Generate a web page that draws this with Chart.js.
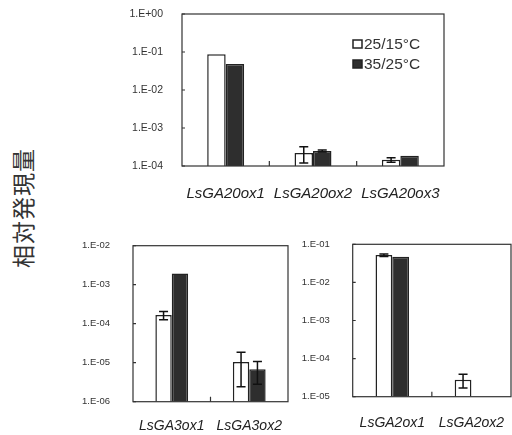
<!DOCTYPE html>
<html>
<head>
<meta charset="utf-8">
<script src="https://cdn.jsdelivr.net/npm/chart.js@4/dist/chart.umd.min.js"></script>
<style>
  html, body { margin: 0; padding: 0; background: #fff; width: 512px; height: 435px; overflow: hidden; }
  .panel { position: absolute; }
  #ylab {
    position: absolute; left: 22px; top: 208px;
    transform: translate(-50%, -50%) rotate(-90deg);
    font: 23px "Noto Sans CJK JP"; color: #333; white-space: nowrap; letter-spacing: 1px;
  }
</style>
</head>
<body>
<div id="ylab">相対発現量</div>
<canvas id="c1" class="panel" width="360" height="210" style="left:100px;top:0"></canvas>
<canvas id="c2" class="panel" width="240" height="205" style="left:60px;top:230px"></canvas>
<canvas id="c3" class="panel" width="222" height="205" style="left:290px;top:230px"></canvas>
<script>
// Growing-condition series (day/night temperature)
const seriesLabels = ['25/15°C', '35/25°C'];

// GA 20-oxidase genes
const ga20Genes = ['LsGA20ox1', 'LsGA20ox2', 'LsGA20ox3'];
const ga20Cool = [0.087, 2.2e-4, 1.45e-4];
const ga20CoolErr = [0, 1.0e-4, 0.2e-4];
const ga20Warm = [0.048, 2.5e-4, 1.87e-4];
const ga20WarmErr = [0, 0.15e-4, 0];
const ga20TickValues = [1e-4, 1e-3, 1e-2, 1e-1, 1];
const ga20TickLabels = ['1.E-04', '1.E-03', '1.E-02', '1.E-01', '1.E+00'];

// GA 3-oxidase genes
const ga3Genes = ['LsGA3ox1', 'LsGA3ox2'];
const ga3Cool = [1.66e-4, 1.04e-5];
const ga3CoolErr = [0.4e-4, 0.8e-5];
const ga3Warm = [1.95e-3, 6.8e-6];
const ga3WarmErr = [0, 4e-6];
const ga3TickValues = [1e-6, 1e-5, 1e-4, 1e-3, 1e-2];
const ga3TickLabels = ['1.E-06', '1.E-05', '1.E-04', '1.E-03', '1.E-02'];

// GA 2-oxidase genes
const ga2Genes = ['LsGA2ox1', 'LsGA2ox2'];
const ga2Cool = [0.052, 2.8e-5];
const ga2CoolErr = [0.004, 1.1e-5];
const ga2Warm = [0.047, null];
const ga2WarmErr = [0, 0];
const ga2TickValues = [1e-5, 1e-4, 1e-3, 1e-2, 1e-1];
const ga2TickLabels = ['1.E-05', '1.E-04', '1.E-03', '1.E-02', '1.E-01'];

const INK = '#222';

// Frame around the plot area plus short inward tick marks
const framePlugin = {
  id: 'frame',
  afterDatasetsDraw(chart) {
    const { ctx, chartArea: a, scales } = chart;
    ctx.save();
    ctx.strokeStyle = '#333';
    ctx.lineWidth = 1.2;
    ctx.strokeRect(a.left, a.top, a.right - a.left, a.bottom - a.top);
    ctx.beginPath();
    scales.y.ticks.forEach(t => {
      const py = scales.y.getPixelForValue(t.value);
      ctx.moveTo(a.left, py); ctx.lineTo(a.left + 3, py);
    });
    const n = chart.data.labels.length;
    for (let i = 1; i < n; i++) {
      const px = (scales.x.getPixelForValue(i - 1) + scales.x.getPixelForValue(i)) / 2;
      ctx.moveTo(px, a.bottom); ctx.lineTo(px, a.bottom - 5);
    }
    ctx.stroke();
    ctx.restore();
  }
};

// Standard-error whiskers read from each dataset's `errors` array
const errorBarPlugin = {
  id: 'errorBars',
  afterDatasetsDraw(chart) {
    const { ctx, scales: { y } } = chart;
    chart.data.datasets.forEach((ds, di) => {
      const meta = chart.getDatasetMeta(di);
      (ds.errors || []).forEach((e, i) => {
        const v = ds.data[i];
        if (v == null || !e) return;
        const bar = meta.data[i];
        const top = y.getPixelForValue(v + e);
        const bot = y.getPixelForValue(Math.max(v - e, y.min));
        ctx.save();
        ctx.strokeStyle = '#111';
        ctx.lineWidth = 1.5;
        ctx.beginPath();
        ctx.moveTo(bar.x, top); ctx.lineTo(bar.x, bot);
        ctx.moveTo(bar.x - 4.5, top); ctx.lineTo(bar.x + 4.5, top);
        ctx.moveTo(bar.x - 4.5, bot); ctx.lineTo(bar.x + 4.5, bot);
        ctx.stroke();
        ctx.restore();
      });
    });
  }
};

// Small boxed legend placed inside the plot area
const boxLegendPlugin = {
  id: 'boxLegend',
  afterDraw(chart, args, opts) {
    if (!opts || !opts.show) return;
    const { ctx } = chart;
    ctx.save();
    ctx.font = '15.5px "Liberation Sans", Arial, sans-serif';
    ctx.textBaseline = 'middle';
    chart.data.datasets.forEach((ds, i) => {
      const cy = opts.y + i * opts.gap;
      ctx.fillStyle = ds.backgroundColor;
      ctx.fillRect(opts.x, cy - 4, 9, 8);
      ctx.strokeStyle = INK;
      ctx.lineWidth = 1.5;
      ctx.strokeRect(opts.x, cy - 4, 9, 8);
      ctx.fillStyle = '#333';
      ctx.fillText(ds.label, opts.x + 11, cy + 1);
    });
    ctx.restore();
  }
};

function makeChart(id, genes, cool, coolErr, warm, warmErr, tickValues, tickLabels, geo) {
  return new Chart(document.getElementById(id), {
    type: 'bar',
    data: {
      labels: genes,
      datasets: [
        { label: seriesLabels[0], data: cool, errors: coolErr,
          backgroundColor: '#ffffff', borderColor: INK, borderWidth: 1.5 },
        { label: seriesLabels[1], data: warm, errors: warmErr,
          backgroundColor: '#2e2e2e', borderColor: INK, borderWidth: 1.5 }
      ]
    },
    options: {
      responsive: false,
      animation: false,
      devicePixelRatio: 1,
      categoryPercentage: 0.423,
      barPercentage: 1.0,
      layout: { padding: { top: geo.top, right: geo.right, left: 0, bottom: 0 } },
      plugins: {
        legend: { display: false },
        tooltip: { enabled: false },
        boxLegend: geo.legend || { show: false }
      },
      scales: {
        x: {
          type: 'category',
          offset: true,
          grid: { display: false, drawTicks: false },
          border: { display: false },
          ticks: {
            color: '#222',
            padding: geo.xPad,
            maxRotation: 0,
            font: { family: '"Liberation Sans", Arial, sans-serif', size: geo.xFont, style: 'italic' }
          },
          afterFit: s => { s.height = geo.xHeight; s.paddingLeft = 0; s.paddingRight = 0; }
        },
        y: {
          type: 'logarithmic',
          min: tickValues[0],
          max: tickValues[tickValues.length - 1],
          grid: { display: false, drawTicks: false },
          border: { display: false },
          afterBuildTicks: s => { s.ticks = tickValues.map(v => ({ value: v })); },
          ticks: {
            color: '#333',
            padding: geo.yPad,
            autoSkip: false,
            font: { family: '"Liberation Sans", Arial, sans-serif', size: geo.yFont },
            callback: (v) => tickLabels[tickValues.indexOf(v)]
          },
          afterFit: s => { s.width = geo.yWidth; s.paddingTop = 0; s.paddingBottom = 0; }
        }
      }
    },
    plugins: [errorBarPlugin, framePlugin, boxLegendPlugin]
  });
}

makeChart('c1', ga20Genes, ga20Cool, ga20CoolErr, ga20Warm, ga20WarmErr, ga20TickValues, ga20TickLabels,
  { top: 14, right: 16, yWidth: 82, xHeight: 44, xPad: 19, yPad: 19, xFont: 15, yFont: 10.5,
    legend: { show: true, x: 253, y: 44, gap: 20 } });

makeChart('c2', ga3Genes, ga3Cool, ga3CoolErr, ga3Warm, ga3WarmErr, ga3TickValues, ga3TickLabels,
  { top: 15.7, right: 12, yWidth: 73, xHeight: 33.3, xPad: 16, yPad: 23, xFont: 14, yFont: 9.5 });

makeChart('c3', ga2Genes, ga2Cool, ga2CoolErr, ga2Warm, ga2WarmErr, ga2TickValues, ga2TickLabels,
  { top: 14.3, right: 1, yWidth: 62.7, xHeight: 38.3, xPad: 18, yPad: 23, xFont: 14, yFont: 9.5 });
</script>
</body>
</html>
